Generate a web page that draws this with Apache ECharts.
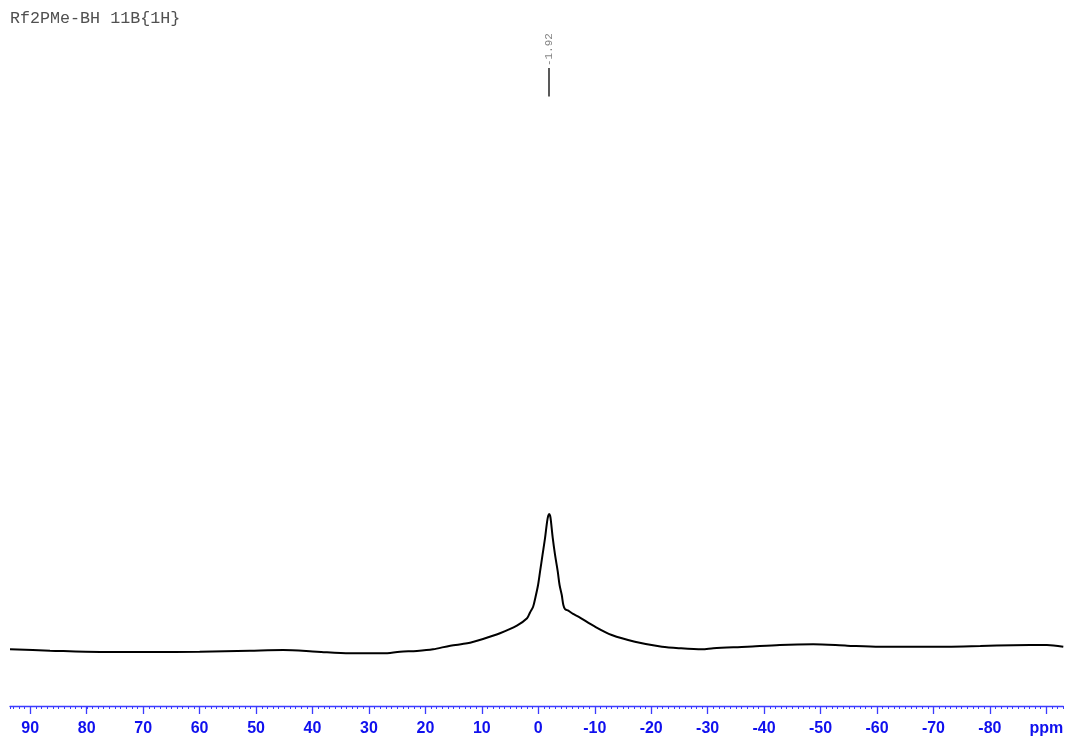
<!DOCTYPE html>
<html>
<head>
<meta charset="utf-8">
<script src="https://cdn.jsdelivr.net/npm/echarts@6/dist/echarts.min.js"></script>
<style>
  html, body { margin: 0; padding: 0; background: #ffffff; }
  #chart { width: 1070px; height: 738px; }
</style>
</head>
<body>
<div id="chart"></div>
<script>
// 11B{1H} NMR spectrum of Rf2PMe-BH
const spectrumTitle = 'Rf2PMe-BH 11B{1H}';

// chemical shift (ppm), left to right
const shiftPpm = [
  93.6, 86.5, 77.6, 68.8, 60.0, 51.1, 45.2, 39.2, 33.4, 27.5,
  24.5, 21.5, 18.65, 15.6, 12.6, 9.8, 6.8, 3.8, 2.0, 1.47,
  0.94, 0.5, 0.05, -0.30, -0.74, -1.19, -1.54, -1.74, -1.92, -2.10,
  -2.25, -2.55, -2.96, -3.44, -3.76, -4.15, -4.43, -4.73, -5.31, -6.15,
  -7.09, -10.04, -13.0, -17.1, -21.9, -25.1, -29.0, -31.0, -37.0, -42.8,
  -48.7, -54.7, -60.5, -66.4, -72.4, -78.3, -84.1, -90.1, -93.0
];

// relative intensity (tallest peak = 100)
const intensity = [
  0.5, -0.5, -1.5, -1.5, -1.25, -0.5, 0.0, -1.25, -2.4, -2.4,
  -1.25, -0.7, 0.5, 3.2, 4.9, 8.1, 12.3, 17.9, 23.3, 27.6,
  31.6, 39.0, 47.8, 57.6, 69.9, 82.4, 94.1, 98.5, 100.0, 98.5,
  94.1, 82.4, 69.9, 57.6, 47.8, 40.4, 33.1, 30.1, 28.9, 26.5,
  24.5, 17.1, 11.0, 6.1, 2.4, 1.25, 0.5, 1.25, 2.4, 3.7,
  4.2, 3.2, 2.4, 2.4, 2.4, 2.9, 3.5, 3.7, 2.4
];

// picked peaks (ppm)
const peakPicks = [-1.92];

// labelled scale: major ticks every 10 ppm, last one shows the unit
const scaleMajor = [90, 80, 70, 60, 50, 40, 30, 20, 10, 0, -10, -20, -30, -40, -50, -60, -70, -80, -90];
const unitLabel = 'ppm';

const AXIS_BLUE = '#3b3bff';
const LABEL_BLUE = '#1010ee';

// vertical placement of the peak-pick marker (intensity units)
const PICK_LINE_TOP = 428;
const PICK_LINE_BOTTOM = 407;
const PICK_TEXT_Y = 440;

const points = shiftPpm.map((x, i) => [x, intensity[i]]);

const chart = echarts.init(document.getElementById('chart'), null, { renderer: 'canvas' });

chart.setOption({
  animation: false,
  backgroundColor: '#ffffff',
  title: {
    text: spectrumTitle,
    left: 10,
    top: 10,
    padding: 0,
    textStyle: {
      fontFamily: 'Liberation Mono, DejaVu Sans Mono, monospace',
      fontSize: 16.7,
      fontWeight: 'normal',
      color: '#505050'
    }
  },
  grid: [
    // spectrum area; its axis carries the 1 ppm minor ticks
    { left: 10, right: 6.7, top: 0, bottom: 32, containLabel: false },
    // labelled scale from 90 to -90 ppm
    { left: 30.25, right: 23.65, top: 0, bottom: 32, containLabel: false }
  ],
  xAxis: [
    {
      type: 'value',
      gridIndex: 0,
      inverse: true,
      min: -93,
      max: 93.6,
      interval: 1,
      axisLine: { show: true, onZero: false, lineStyle: { color: AXIS_BLUE, width: 1.3 } },
      axisTick: { show: true, length: 3, lineStyle: { color: AXIS_BLUE, width: 1 } },
      axisLabel: { show: false },
      splitLine: { show: false }
    },
    {
      type: 'value',
      gridIndex: 1,
      inverse: true,
      min: scaleMajor[scaleMajor.length - 1],
      max: scaleMajor[0],
      interval: 10,
      axisLine: { show: false, onZero: false },
      axisTick: { show: true, length: 8, lineStyle: { color: AXIS_BLUE, width: 1.3 } },
      axisLabel: {
        show: true,
        margin: 15,
        color: LABEL_BLUE,
        fontFamily: 'Liberation Sans, Arial, Helvetica, sans-serif',
        fontWeight: 'bold',
        fontSize: 16,
        formatter: v => (v === scaleMajor[scaleMajor.length - 1] ? unitLabel : String(v))
      },
      splitLine: { show: false }
    }
  ],
  yAxis: [
    { type: 'value', gridIndex: 0, min: -41.18, max: 477.94, show: false },
    { type: 'value', gridIndex: 1, min: 0, max: 1, show: false }
  ],
  series: [
    {
      name: 'spectrum',
      type: 'line',
      xAxisIndex: 0,
      yAxisIndex: 0,
      data: points,
      showSymbol: false,
      smooth: 0.3,
      lineStyle: { color: '#000000', width: 2 },
      silent: true,
      markLine: {
        silent: true,
        symbol: ['none', 'none'],
        label: { show: false },
        lineStyle: { color: '#222222', width: 1.5, type: 'solid' },
        data: peakPicks.map(p => [
          { coord: [p, PICK_LINE_BOTTOM] },
          { coord: [p, PICK_LINE_TOP] }
        ])
      }
    },
    {
      name: 'peak labels',
      type: 'scatter',
      xAxisIndex: 0,
      yAxisIndex: 0,
      symbolSize: 0,
      silent: true,
      data: peakPicks.map(p => [p, PICK_TEXT_Y]),
      label: {
        show: true,
        position: 'inside',
        rotate: 90,
        offset: [2, 0],
        color: '#666666',
        fontFamily: 'Liberation Mono, DejaVu Sans Mono, monospace',
        fontSize: 11,
        formatter: p => p.value[0].toFixed(2)
      }
    }
  ]
});
</script>
</body>
</html>
